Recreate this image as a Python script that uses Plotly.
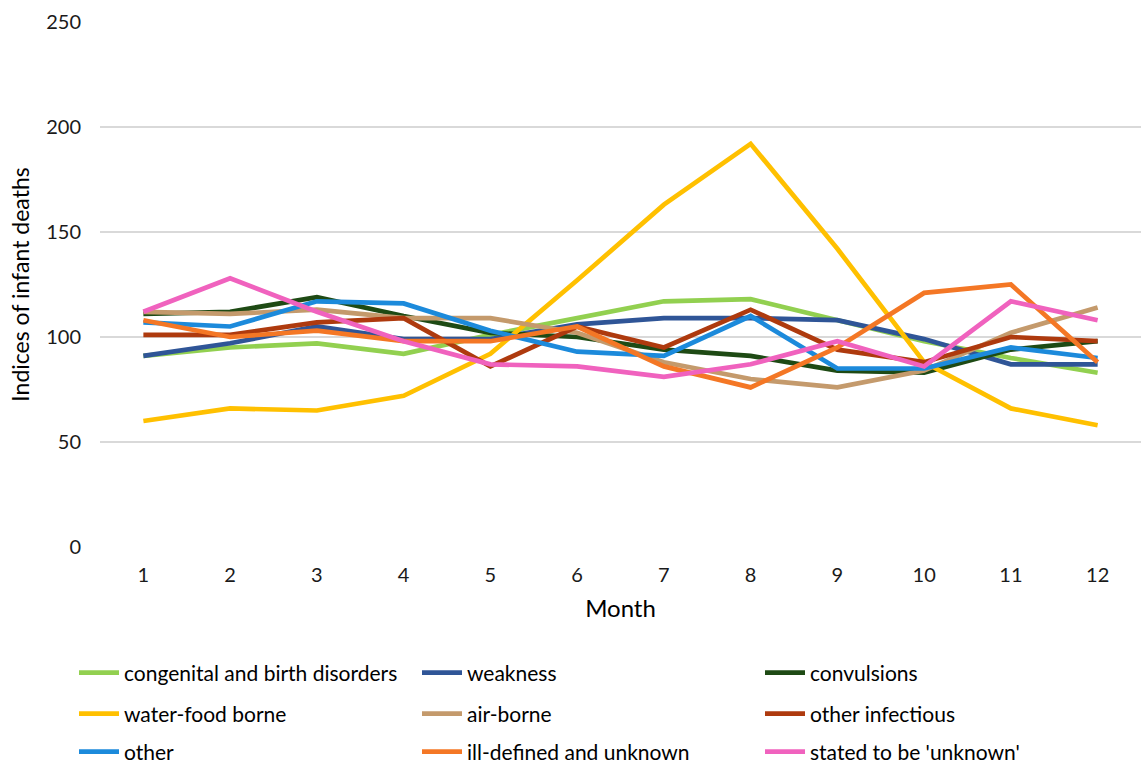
import plotly.graph_objects as go

months = list(range(1, 13))

congenital = [91, 95, 97, 92, 101, 109, 117, 118, 108, 98, 90, 83]
weakness = [91, 97, 105, 99, 99, 106, 109, 109, 108, 99, 87, 87]
convulsions = [111, 112, 119, 110, 102, 100, 94, 91, 84, 83, 94, 98]
water_food = [60, 66, 65, 72, 92, 127, 163, 192, 142, 88, 66, 58]
air_borne = [112, 111, 113, 109, 109, 102, 88, 80, 76, 84, 102, 114]
other_infectious = [101, 101, 107, 109, 86, 105, 95, 113, 94, 88, 100, 98]
other = [107, 105, 117, 116, 103, 93, 91, 110, 85, 85, 95, 90]
ill_defined = [108, 100, 103, 98, 98, 105, 86, 76, 95, 121, 125, 88]
stated_unknown = [112, 128, 112, 98, 87, 86, 81, 87, 98, 86, 117, 108]

series = [
    ("congenital and birth disorders", congenital, "#92D050"),
    ("weakness", weakness, "#2F5597"),
    ("convulsions", convulsions, "#1E4A14"),
    ("water-food borne", water_food, "#FFC000"),
    ("air-borne", air_borne, "#C49A6C"),
    ("other infectious", other_infectious, "#AE3A0E"),
    ("other", other, "#1C8ADB"),
    ("ill-defined and unknown", ill_defined, "#F47725"),
    ("stated to be 'unknown'", stated_unknown, "#F062BE"),
]

FONT = "Lato"
W, H = 1141, 765
plot_top, plot_bottom = 22, 547

fig = go.Figure()
legend_ids = ["legend", "legend2", "legend3"]
for i, (name, vals, color) in enumerate(series):
    fig.add_trace(go.Scatter(
        x=months, y=vals, name=name, mode="lines",
        line=dict(color=color, width=4.7),
        legend=legend_ids[i // 3],
    ))

# one horizontal legend row per three series, placed in page pixels
legend_style = dict(
    orientation="h", xanchor="left", yanchor="middle",
    xref="container", yref="container",
    entrywidth=288, entrywidthmode="pixels",
    font=dict(family=FONT, size=21, color="#000000"),
    bgcolor="rgba(0,0,0,0)", itemwidth=40,
)
row_y = [673, 714, 752]
legend_x = 74 / W

fig.update_layout(
    width=W, height=H,
    margin=dict(l=100, r=0, t=plot_top, b=H - plot_bottom),
    plot_bgcolor="white", paper_bgcolor="white",
    font=dict(family=FONT, size=20, color="#000000"),
    showlegend=True,
    legend=dict(legend_style, x=legend_x, y=1 - row_y[0] / H),
    legend2=dict(legend_style, x=legend_x, y=1 - row_y[1] / H),
    legend3=dict(legend_style, x=legend_x, y=1 - row_y[2] / H),
    xaxis=dict(
        range=[0.5, 12.5], tickmode="array", tickvals=months,
        ticktext=[str(m) for m in months],
        showgrid=False, zeroline=False, showline=False, ticks="",
        ticklabelstandoff=14,
        tickfont=dict(family=FONT, size=20, color="#1a1a1a"),
        title=dict(text="Month", font=dict(family=FONT, size=24, color="#000000"), standoff=15),
    ),
    yaxis=dict(
        range=[0, 250], dtick=50, showgrid=True, gridcolor="#D9D9D9", gridwidth=1.5,
        zeroline=False, showline=False, ticks="",
        ticklabelstandoff=18,
        tickfont=dict(family=FONT, size=20, color="#1a1a1a"),
        title=dict(text="Indices of infant deaths", font=dict(family=FONT, size=23, color="#000000"), standoff=10),
    ),
)

fig.write_html("out.html")
